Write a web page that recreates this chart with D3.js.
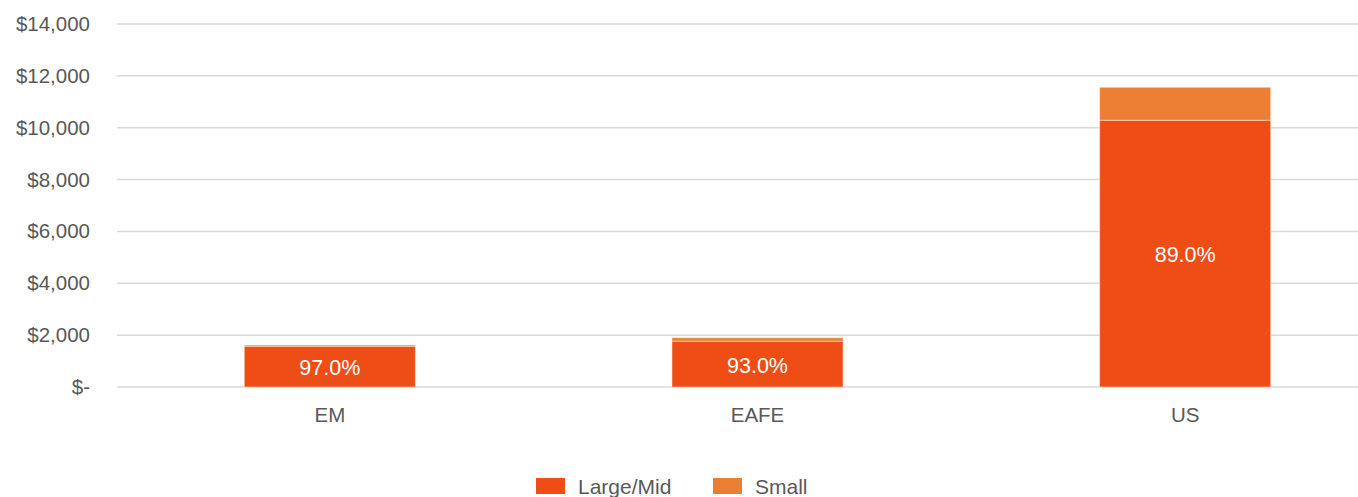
<!DOCTYPE html>
<html><head><meta charset="utf-8">
<script src="https://cdn.jsdelivr.net/npm/d3@7"></script>
<style>body{margin:0;background:#fff}svg{display:block;font-family:"Liberation Sans",Arial,Helvetica,sans-serif}</style>
</head><body><svg id="c" width="1358" height="497"></svg>
<script>
const categories = ["EM", "EAFE", "US"];
const largeMid = [1572, 1767, 10288];
const small = [48, 133, 1272];
const labels = ["97.0%", "93.0%", "89.0%"];
const yTicks = [0, 2000, 4000, 6000, 8000, 10000, 12000, 14000];
const seriesNames = ["Large/Mid", "Small"];
const colors = ["#EE4D16", "#EC7E33"];

const svg = d3.select("#c");
const x = d3.scaleBand().domain(categories).range([116, 1399]).paddingInner(0.6).paddingOuter(0.3);
const y = d3.scaleLinear().domain([0, 14000]).range([387, 24]);

const fmt = v => v === 0 ? "$-" : "$" + d3.format(",")(v);

// grid
svg.append("g").selectAll("line").data(yTicks).join("line")
  .attr("x1", 117).attr("x2", 1358)
  .attr("y1", d => y(d)).attr("y2", d => y(d))
  .attr("stroke", "#d9d9d9").attr("stroke-width", 1.5);

// y labels
const yAxis = d3.axisLeft(y).tickValues(yTicks).tickFormat(fmt).tickSize(0).tickPadding(0);
const ya = svg.append("g").attr("transform", "translate(90,0)").call(yAxis);
ya.select(".domain").remove();
ya.selectAll("text").attr("font-size", 20.5).attr("fill", "#595959").attr("font-family", "Liberation Sans, Arial, sans-serif");

// bars
const stackData = categories.map((c, i) => ({cat: c, "Large/Mid": largeMid[i], "Small": small[i]}));
const stack = d3.stack().keys(seriesNames)(stackData);
svg.append("g").selectAll("g").data(stack).join("g")
  .attr("fill", (d, i) => colors[i])
  .selectAll("rect").data(d => d).join("rect")
  .attr("x", d => x(d.data.cat))
  .attr("width", x.bandwidth())
  .attr("y", d => y(d[1]))
  .attr("height", d => y(d[0]) - y(d[1]))
  .attr("stroke", "rgba(255,255,255,0.45)").attr("stroke-width", 1);

// value labels
svg.append("g").selectAll("text").data(categories).join("text")
  .attr("x", d => x(d) + x.bandwidth() / 2)
  .attr("y", (d, i) => (y(0) + y(largeMid[i])) / 2 + 1)
  .attr("dy", "0.36em")
  .attr("text-anchor", "middle").attr("font-size", 21.5).attr("fill", "#fff")
  .text((d, i) => labels[i]);

// x labels
const xAxis = d3.axisBottom(x).tickSize(0).tickPadding(0);
const xa = svg.append("g").attr("transform", "translate(0,407)").call(xAxis);
xa.select(".domain").remove();
xa.selectAll("text").attr("font-size", 20.5).attr("fill", "#595959").attr("font-family", "Liberation Sans, Arial, sans-serif");

// legend
const legX = [536, 713];
const lg = svg.append("g").selectAll("g").data(seriesNames).join("g")
  .attr("transform", (d, i) => `translate(${legX[i]},478)`);
lg.append("rect").attr("width", 29).attr("height", 16).attr("fill", (d, i) => colors[i]);
lg.append("text").attr("x", 42).attr("y", 8).attr("dy", "0.36em")
  .attr("font-size", 21).attr("fill", "#595959").text(d => d);
</script></body></html>
